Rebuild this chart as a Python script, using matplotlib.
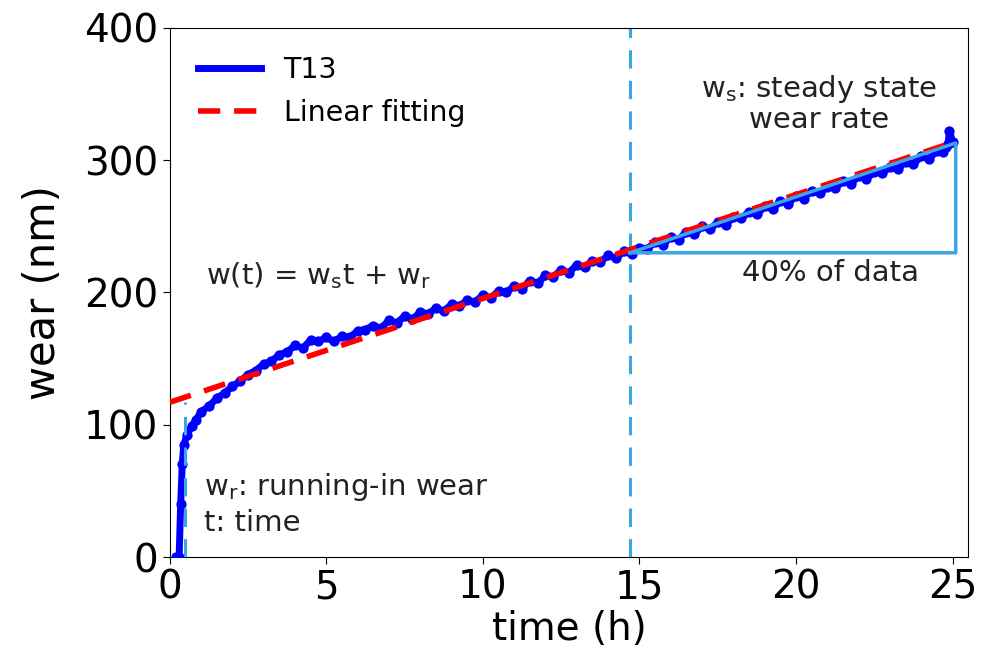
import matplotlib.pyplot as plt

# wear curve (time in h, wear in nm)
time_h = [0.2, 0.3, 0.35, 0.4, 0.45, 0.55, 0.7, 0.85, 1.0, 1.25, 1.5, 1.75, 2.0, 2.25, 2.5,
          2.75, 3.0, 3.25, 3.5, 3.75, 4.0, 4.25, 4.5, 4.75, 5.0, 5.25, 5.5, 5.75, 6.0,
          6.25, 6.5, 6.75, 7.0, 7.25, 7.5, 7.75, 8.0, 8.25, 8.5, 8.75, 9.0, 9.25, 9.5,
          9.75, 10.0, 10.25, 10.5, 10.75, 11.0, 11.25, 11.5, 11.75, 12.0, 12.25, 12.5,
          12.75, 13.0, 13.25, 13.5, 13.75, 14.0, 14.25, 14.5, 14.75, 15.0, 15.25, 15.5,
          15.75, 16.0, 16.25, 16.5, 16.75, 17.0, 17.25, 17.5, 17.75, 18.0, 18.25, 18.5,
          18.75, 19.0, 19.25, 19.5, 19.75, 20.0, 20.25, 20.5, 20.75, 21.0, 21.25, 21.5,
          21.75, 22.0, 22.25, 22.5, 22.75, 23.0, 23.25, 23.5, 23.75, 24.0, 24.25, 24.5,
          24.7, 24.8, 24.85, 24.9, 25.0]
wear_nm = [0, 0, 40, 70, 85, 92, 99, 104, 110, 114, 120, 124, 129, 133, 138,
           141, 146, 148, 153, 155, 160, 158, 164, 163, 166, 163, 167, 166, 171,
           172, 175, 173, 179, 177, 182, 180, 185, 184, 188, 186, 191, 190, 194,
           193, 198, 196, 201, 200, 205, 203, 209, 207, 213, 212, 217, 215, 221,
           219, 224, 223, 228, 226, 231, 229, 234, 233, 238, 236, 242, 240, 246,
           244, 250, 248, 253, 251, 257, 256, 261, 259, 265, 263, 269, 267, 273,
           271, 277, 275, 280, 279, 284, 282, 288, 286, 291, 290, 295, 293, 299,
           297, 303, 301, 307, 306, 310, 312, 322, 314]

# linear fit of the last 40 % of the data
fit_slope = 7.85
fit_intercept = 117
fit_x = [0, 25]

# steady-state triangle corners
tri_x = [14.7, 25.1, 25.1, 14.7]
tri_y = [230, 230, 313, 230]

blue_light = '#3aa6e8'

fig = plt.figure(figsize=(9.81, 6.64), dpi=100)
ax = fig.add_axes([0.173, 0.161, 0.814, 0.797])

ax.plot(time_h, wear_nm, color='blue', lw=5, label='T13', zorder=3)
ax.scatter(time_h, wear_nm, color='blue', s=55, lw=0, zorder=3)
ax.plot(fit_x, [fit_intercept + fit_slope * x for x in fit_x], color='red', lw=4,
        ls=(0, (4, 2.5)), label='Linear fitting', zorder=4)

ax.axvline(14.7, color=blue_light, lw=2.2, ls=(0, (6, 4)), zorder=2)
ax.plot([0.48, 0.48], [0, fit_intercept], color=blue_light, lw=2.2, ls=(0, (6, 4)), zorder=5)
ax.plot(tri_x, tri_y, color=blue_light, lw=2.5, zorder=5)

tk = dict(fontsize=21, color='#222222')
ax.text(1.15, 213, r'w(t) = w$_\mathregular{s}$t + w$_\mathregular{r}$', va='center',
        ha='left', **tk)
ax.text(1.1, 40, 'w$_\\mathregular{r}$: running-in wear\nt: time', va='center', ha='left',
        linespacing=1.25, **tk)
ax.text(20.75, 343, 'w$_\\mathregular{s}$: steady state\nwear rate', va='center',
        ha='center', linespacing=1.05, **tk)
ax.text(21.1, 215, '40% of data', va='center', ha='center', **tk)

ax.set_xlim(0, 25.5)
ax.set_ylim(0, 400)
ax.set_xticks([0, 5, 10, 15, 20, 25])
ax.set_yticks([0, 100, 200, 300, 400])
ax.tick_params(labelsize=28, length=5)
ax.set_xlabel('time (h)', fontsize=28, labelpad=2)
ax.set_ylabel('wear (nm)', fontsize=30, labelpad=14)

ax.legend(loc='upper left', fontsize=20.5, frameon=False, handlelength=2.2,
          borderaxespad=0.6)

fig.savefig('out.png', dpi=100)
